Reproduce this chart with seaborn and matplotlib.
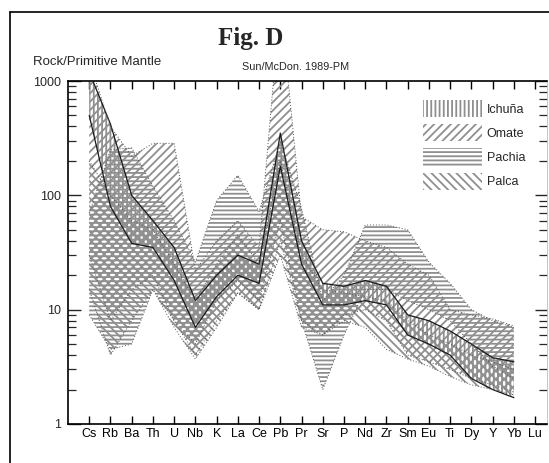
import numpy as np
import pandas as pd
import matplotlib
matplotlib.use("Agg")
import matplotlib.pyplot as plt
import seaborn as sns
from matplotlib.patches import Patch
from matplotlib.lines import Line2D
from matplotlib.ticker import LogLocator, FixedLocator, NullFormatter

nan = np.nan
elements = ["Cs", "Rb", "Ba", "Th", "U", "Nb", "K", "La", "Ce", "Pb", "Pr",
            "Sr", "P", "Nd", "Zr", "Sm", "Eu", "Ti", "Dy", "Y", "Yb", "Lu"]

ichuna_lo = [500, 80, 38, 35, 18, 7, 13, 20, 17, 180, 25, 11, 11, 12, 11, 6, 5, 4, 2.5, 2.0, 1.7, nan]
ichuna_hi = [1200, 420, 100, 60, 35, 12, 20, 30, 25, 350, 40, 17, 16, 18, 16, 9, 8, 6.5, 5, 3.8, 3.5, nan]

omate_lo = [30, 8, 15, 20, 8, 4, 8, 14, 10, 40, 8, 6, 9, 10, 8, 4, 3.5, 3, 2.5, 2.2, 1.9, nan]
omate_hi = [1500, 400, 220, 285, 285, 22, 40, 60, 35, 5000, 65, 50, 48, 40, 35, 25, 20, 10, 9, 8.3, 7.2, nan]

pachia_lo = [9, 4.5, 5, 15, 8, 5, 12, 18, 12, 60, 8, 2.0, 6, 15, 15, 12, 10, 8, 5, 3.2, 2.5, nan]
pachia_hi = [70, 250, 260, 120, 60, 26, 90, 150, 72, 300, 77, 12, 20, 55, 55, 50, 26, 17, 10, 8, 7, nan]

palca_lo = [15, 4, 8, 15, 7, 3.7, 7, 14, 10, 30, 7, 6, 8, 7, 4.5, 3.7, 3.2, 2.6, 2.2, 2.0, 1.8, nan]
palca_hi = [200, 100, 60, 50, 25, 12, 25, 45, 25, 200, 30, 15, 14, 13, 12, 8, 6, 5, 4, 3.5, 3.0, nan]

groups = ["Ichuña", "Omate", "Pachia", "Palca"]
lows = [ichuna_lo, omate_lo, pachia_lo, palca_lo]
highs = [ichuna_hi, omate_hi, pachia_hi, palca_hi]
hatches = ["||||", "////", "----", "\\\\\\\\"]

sns.set_style("ticks")
plt.rcParams["font.family"] = ["Liberation Sans", "DejaVu Sans"]
plt.rcParams["hatch.linewidth"] = 1.3
plt.rcParams["hatch.color"] = "#8f8f8f"

fig = plt.figure(figsize=(5.49, 4.63), dpi=100)
ax = fig.add_axes([68 / 549, 1 - 424 / 463, (547 - 68) / 549, (424 - 81) / 463])
ax.set_yscale("log")

xs = np.arange(1, len(elements) + 1)
rows = []
for g, lo, hi in zip(groups, lows, highs):
    for e, x, a, b in zip(elements, xs, lo, hi):
        rows.append({"group": g, "element": e, "x": x, "lo": a, "hi": b})
df = pd.DataFrame(rows)

hatch_col = "#8f8f8f"
for g, h in zip(groups, hatches):
    d = df[df.group == g].dropna()
    ax.fill_between(d.x, d.lo, d.hi, facecolor="none", edgecolor=hatch_col,
                    hatch=h, linewidth=0, zorder=2)

for g in groups:
    d = df[df.group == g].dropna()
    if g == "Ichuña":
        kw = dict(color="#1a1a1a", linewidth=0.9, linestyle="-")
    else:
        kw = dict(color="#555555", linewidth=0.7, linestyle=(0, (1, 2)))
    sns.lineplot(data=d, x="x", y="lo", ax=ax, zorder=3, **kw)
    sns.lineplot(data=d, x="x", y="hi", ax=ax, zorder=3, **kw)

ax.set_xlim(0, 22.56)
ax.set_ylim(1, 1000)
ax.set_xlabel("")
ax.set_ylabel("")

ax.set_xticks(xs)
ax.set_xticklabels(elements, fontsize=9)
ax.yaxis.set_major_locator(FixedLocator([1, 10, 100, 1000]))
ax.set_yticklabels(["1", "10", "100", "1000"], fontsize=9)
ax.yaxis.set_minor_locator(LogLocator(base=10, subs=np.arange(2, 10)))
ax.yaxis.set_minor_formatter(NullFormatter())

ax.tick_params(axis="x", which="major", direction="in", length=6, width=1.0,
               top=True, bottom=True, pad=3, colors="black")
ax.tick_params(axis="y", which="major", direction="in", length=9, width=1.0,
               left=True, right=True, pad=5)
ax.tick_params(axis="y", which="minor", direction="in", length=6, width=0.9,
               left=True, right=True)

for s in ["left", "bottom", "top"]:
    ax.spines[s].set_visible(True)
    ax.spines[s].set_linewidth(1.2)
    ax.spines[s].set_color("black")
ax.spines["right"].set_visible(True)
ax.spines["right"].set_linewidth(0.6)
ax.spines["right"].set_color("#bbbbbb")

handles = [Patch(facecolor="white", edgecolor=hatch_col, hatch=h, linewidth=0)
           for h in hatches]
leg = ax.legend(handles, groups, loc="upper left", bbox_to_anchor=(0.741, 0.945),
                frameon=False, fontsize=9, handlelength=4.7, handleheight=1.76,
                labelspacing=0.55, handletextpad=0.4, borderpad=0, borderaxespad=0)

fig.text(251 / 549, 1 - 38 / 463, "Fig. D", ha="center", va="center",
         fontsize=18, fontweight="bold", family=["Liberation Serif", "DejaVu Serif"])
fig.text(33 / 549, 1 - 62 / 463, "Rock/Primitive Mantle", ha="left", va="center",
         fontsize=9.5)
fig.text(242 / 549, 1 - 67 / 463, "Sun/McDon. 1989-PM", ha="left", va="center",
         fontsize=7.8)

fig.add_artist(Line2D([10 / 549, 10 / 549], [0, 1 - 12 / 463], color="black",
                      linewidth=1.2, transform=fig.transFigure))
fig.add_artist(Line2D([10 / 549, 1], [1 - 12 / 463, 1 - 12 / 463], color="black",
                      linewidth=1.2, transform=fig.transFigure))

fig.savefig("out.png", dpi=100)
